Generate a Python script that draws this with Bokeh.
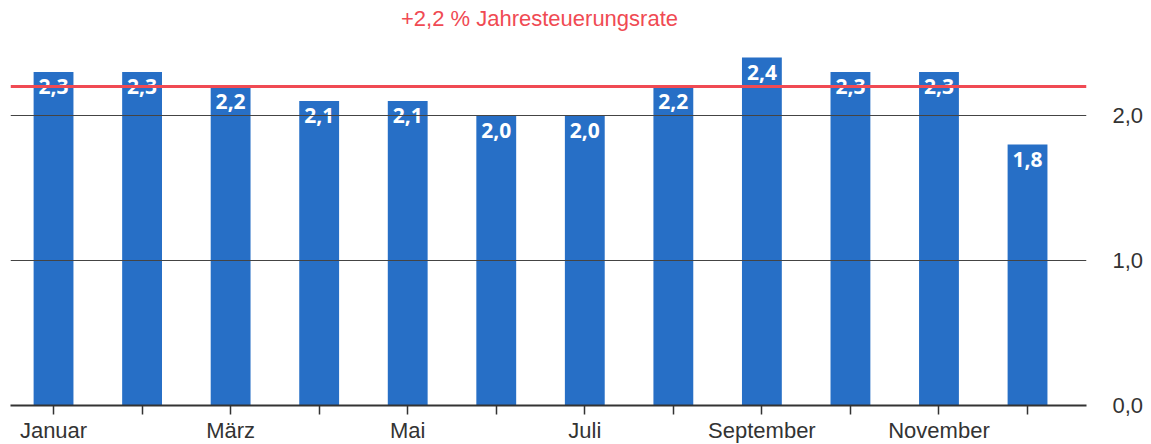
from bokeh.plotting import figure
from bokeh.models import Range1d, FixedTicker, LinearAxis, Span, ColumnDataSource, Label
from bokeh.core.properties import value
from bokeh.embed import file_html
from bokeh.resources import INLINE

months = ["Januar", "Februar", "März", "April", "Mai", "Juni", "Juli",
          "August", "September", "Oktober", "November", "Dezember"]
shown_labels = ["Januar", "", "März", "", "Mai", "", "Juli", "", "September", "", "November", ""]
rates = [2.3, 2.3, 2.2, 2.1, 2.1, 2.0, 2.0, 2.2, 2.4, 2.3, 2.3, 1.8]
annual_rate = 2.2
title_text = "+2,2 % Jahresteuerungsrate"
y_ticks = [0, 1, 2]
y_tick_labels = ["0,0", "1,0", "2,0"]

xs = list(range(1, len(months) + 1))
src = ColumnDataSource(dict(
    x=xs, top=rates,
    lab=[f"{v:.1f}".replace(".", ",") for v in rates],
))

FH = 405
p = figure(output_backend="svg", toolbar_location=None,
           frame_width=1076, frame_height=FH,
           x_range=Range1d(0.514, 12.666), y_range=Range1d(0, FH / 145),
           min_border_left=10, min_border_right=57, min_border_top=0,
           min_border_bottom=35, y_axis_location=None,
           background_fill_color="white", border_fill_color="white",
           outline_line_color=None)

# title as a label inside the (extended) frame
p.add_layout(Label(x=529, y=387, x_units="screen", y_units="screen",
                   text=title_text, text_align="center", text_baseline="middle",
                   text_font="Liberation Sans", text_font_size="22px",
                   text_color="#f04a53"))

p.vbar(x="x", top="top", width=0.45, bottom=0, source=src,
       fill_color="#276FC6", line_color=None)

# gridlines
p.xgrid.grid_line_color = None
p.ygrid.grid_line_color = None
for v in y_ticks[1:]:
    p.add_layout(Span(location=v, dimension="width", line_color="#444444", line_width=1))

p.add_layout(Span(location=annual_rate, dimension="width", line_color="#f04a53", line_width=3))

p.text(x="x", y="top", text="lab", source=src, text_align="center",
       text_baseline="top", y_offset=7, text_color="white",
       text_font=value("Open Sans"), text_font_size="21px", text_font_style="bold")

# x axis
xa = p.xaxis[0]
xa.ticker = FixedTicker(ticks=xs)
xa.major_label_overrides = {x: lab for x, lab in zip(xs, shown_labels)}
xa.axis_line_color = "#333333"
xa.axis_line_width = 2
xa.major_tick_line_color = "#333333"
xa.major_tick_line_width = 1.5
xa.major_tick_in = 0
xa.major_tick_out = 9
xa.minor_tick_line_color = None
xa.major_label_standoff = 3
xa.major_label_text_font = "Liberation Sans"
xa.major_label_text_font_size = "22px"
xa.major_label_text_color = "#333333"

# right y axis
ya = LinearAxis(ticker=FixedTicker(ticks=y_ticks),
                major_label_overrides={t: l for t, l in zip(y_ticks, y_tick_labels)})
ya.axis_line_color = None
ya.major_tick_line_color = None
ya.minor_tick_line_color = None
ya.major_label_standoff = 20
ya.major_label_text_font = "Liberation Sans"
ya.major_label_text_font_size = "22px"
ya.major_label_text_color = "#333333"
p.add_layout(ya, "right")

open("out.html", "w").write(file_html(p, INLINE))
